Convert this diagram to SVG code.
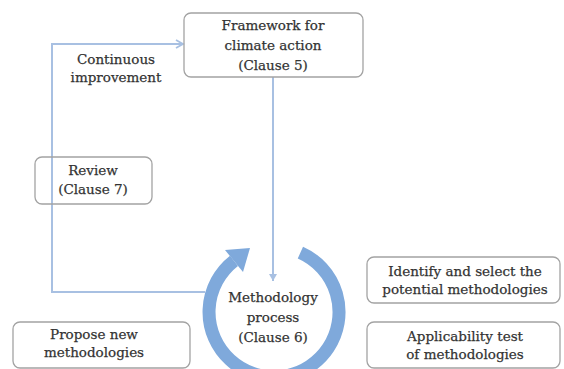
<svg xmlns="http://www.w3.org/2000/svg" width="564" height="369" viewBox="0 0 564 369">
<defs>
<style>
.box{fill:none;stroke:#a3a3a3;stroke-width:1.3}
.t{font-family:"DejaVu Serif","Liberation Serif",serif;font-size:13.5px;fill:#333333;stroke:#333333;stroke-width:0.25;text-anchor:middle}
.ln{fill:none;stroke:#a8c0e2;stroke-width:2}
</style>
<marker id="open" markerWidth="10" markerHeight="10" refX="8" refY="5" orient="auto" markerUnits="userSpaceOnUse">
<path d="M1,1 L8,5 L1,9" fill="none" stroke="#a8c0e2" stroke-width="1.8"/>
</marker>
<marker id="small" markerWidth="8" markerHeight="8" refX="7" refY="4" orient="auto" markerUnits="userSpaceOnUse">
<path d="M0,0 L7,4 L0,8 Z" fill="#a8c0e2"/>
</marker>
</defs>
<rect width="564" height="369" fill="#ffffff"/>
<g id="connectors">
<path class="ln" d="M273,77 V281" marker-end="url(#small)"/>
<path class="ln" d="M205,292 H52 V44 H183" marker-end="url(#open)"/>
</g>
<g id="cycle">
<path d="M300.4,252.6 A65,65 0 1 1 234,260.8" fill="none" stroke="#7fa9db" stroke-width="13"/>
<polygon points="250,248 243,272 225,250" fill="#7fa9db"/>
</g>
<g id="framework">
<rect class="box" x="184" y="13" width="179" height="64" rx="7"/>
<text class="t" x="273" y="30">Framework for</text>
<text class="t" x="273" y="50">climate action</text>
<text class="t" x="273" y="70">(Clause 5)</text>
</g>
<g id="continuous">
<text class="t" x="116" y="64">Continuous</text>
<text class="t" x="116" y="82">improvement</text>
</g>
<g id="review">
<rect class="box" x="35" y="157" width="117" height="47" rx="7"/>
<text class="t" x="93" y="175">Review</text>
<text class="t" x="93" y="194">(Clause 7)</text>
</g>
<g id="methodology">
<text class="t" x="273" y="302">Methodology</text>
<text class="t" x="273" y="322">process</text>
<text class="t" x="273" y="342">(Clause 6)</text>
</g>
<g id="identify">
<rect class="box" x="367" y="257" width="193" height="46" rx="7"/>
<text class="t" x="465" y="276">Identify and select the</text>
<text class="t" x="465" y="294">potential methodologies</text>
</g>
<g id="applicability">
<rect class="box" x="367" y="322" width="193" height="46" rx="7"/>
<text class="t" x="465" y="341">Applicability test</text>
<text class="t" x="465" y="359">of methodologies</text>
</g>
<g id="propose">
<rect class="box" x="13" y="322" width="177" height="46" rx="7"/>
<text class="t" x="94" y="339">Propose new</text>
<text class="t" x="94" y="357">methodologies</text>
</g>
</svg>
